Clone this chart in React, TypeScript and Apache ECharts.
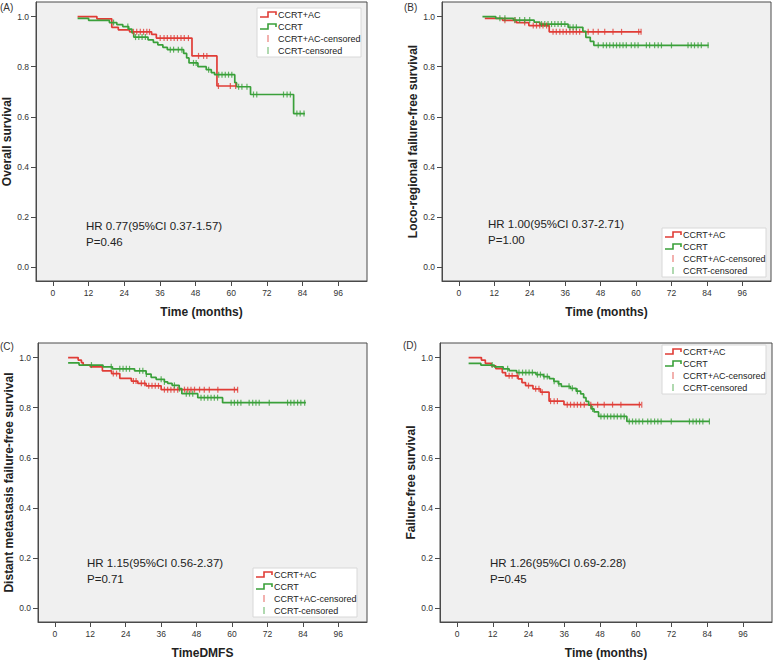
import React, { useEffect, useRef } from "react";
import * as echarts from "echarts";

// ---------- tick labels ----------
const xTicks = [0, 12, 24, 36, 48, 60, 72, 84, 96];
const yTicks = [0, 0.2, 0.4, 0.6, 0.8, 1.0];

// ---------- legend / text ----------
const legendNames = ["CCRT+AC", "CCRT", "CCRT+AC-censored", "CCRT-censored"];
const panelLabels = ["(A)", "(B)", "(C)", "(D)"];
const xTitles = ["Time (months)", "Time (months)", "TimeDMFS", "Time (months)"];
const yTitles = [
  "Overall survival",
  "Loco-regional failure-free survival",
  "Distant metastasis failure-free survival",
  "Failure-free survival",
];
const hrTexts = [
  "HR 0.77(95%CI 0.37-1.57)",
  "HR 1.00(95%CI 0.37-2.71)",
  "HR 1.15(95%CI 0.56-2.37)",
  "HR 1.26(95%CI 0.69-2.28)",
];
const pTexts = ["P=0.46", "P=1.00", "P=0.71", "P=0.45"];

// ---------- Panel A: overall survival ----------
const aRedSteps = [
  [8.3, 1.0], [14.8, 0.991], [19.8, 0.957], [22, 0.947], [25.8, 0.939],
  [33.2, 0.929], [34.8, 0.914], [46.8, 0.843], [55.2, 0.723],
];
const aRedEnd = 61.8;
const aRedCensor = [
  27.1, 28.2, 29.4, 30.5, 31.6, 32.5, 36.1, 37.4, 38.5, 39.7, 40.8, 41.9, 43.1,
  44.2, 45.6, 49, 50.7, 51.8, 55.7, 59.7, 61.5,
];
const aGreenSteps = [
  [8.3, 0.993], [12, 0.985], [19, 0.976], [21.5, 0.968], [23.5, 0.96],
  [25.5, 0.95], [26.6, 0.935], [27.2, 0.918], [32, 0.907], [33.8, 0.897],
  [35.3, 0.887], [37, 0.877], [38.5, 0.868], [44, 0.853], [45, 0.835],
  [45.8, 0.815], [48.8, 0.8], [51.6, 0.788], [53.3, 0.776], [54.4, 0.768],
  [61.2, 0.736], [61.8, 0.72], [66.5, 0.689], [81, 0.613],
];
const aGreenEnd = 84.8;
const aGreenCensor = [
  20.4, 25.2, 27.8, 28.9, 30, 31.1, 39.5, 40.6, 42.2, 43.4, 47.3, 48.2, 52.4,
  55.8, 56.9, 58, 59.1, 60.2, 62.5, 63.6, 65.3, 67.5, 68.6, 77.6, 78.8, 79.9,
  82.1, 83.2, 84.5,
];

// ---------- Panel B: loco-regional failure-free survival ----------
const bRedSteps = [
  [8.8, 0.993], [14.8, 0.985], [19.5, 0.976], [23.7, 0.964], [30.6, 0.939],
];
const bRedEnd = 61.8;
const bRedCensor = [
  15.6, 19, 22.3, 25.2, 26.3, 27.4, 28.5, 29.7, 31.9, 33, 34.2, 35.3, 36.4,
  37.6, 38.7, 39.8, 40.9, 43.8, 45.5, 47.2, 49.4, 52.2, 55.1, 60.9, 61.7,
];
const bGreenSteps = [
  [8, 1.0], [12.5, 0.993], [18.5, 0.986], [25.5, 0.978], [27.4, 0.97],
  [37, 0.957], [42, 0.941], [43, 0.917], [44.5, 0.901], [45.7, 0.885],
];
const bGreenEnd = 84.6;
const bGreenCensor = [
  13.9, 15.6, 19, 20.6, 22.3, 24, 28, 29.1, 30.2, 31.4, 32.5, 33.6, 34.7, 35.9,
  37.6, 38.7, 39.8, 47.2, 48.9, 50, 51.1, 52.3, 53.4, 54.5, 55.6, 56.7, 58.4,
  59.6, 60.7, 63.5, 64.6, 66.3, 67.5, 68.6, 72, 77.6, 78.7, 79.8, 81, 82.1,
  84.4,
];

// ---------- Panel C: distant metastasis failure-free survival ----------
const cRedSteps = [
  [4.5, 1.0], [7.9, 0.99], [9, 0.98], [9.6, 0.97], [12, 0.963], [16.1, 0.947],
  [19.2, 0.936], [22, 0.917], [25.9, 0.906], [28.1, 0.897], [30.9, 0.887],
  [36, 0.872],
];
const cRedEnd = 62;
const cRedCensor = [
  19.8, 20.9, 26.6, 27.5, 29.3, 30.4, 31.8, 32.9, 34, 35.1, 37.1, 38.2, 39.3,
  40.4, 41.6, 43.9, 45, 46.1, 47.3, 49, 50.6, 52.3, 55.2, 60.8, 61.9,
];
const cGreenSteps = [
  [4.5, 0.979], [8.2, 0.97], [16.3, 0.963], [19.5, 0.955], [27, 0.947],
  [30.9, 0.934], [32.6, 0.921], [34.3, 0.913], [37.1, 0.903], [38.2, 0.897],
  [39.7, 0.889], [42.1, 0.876], [43, 0.856], [48.4, 0.84], [56.8, 0.82],
];
const cGreenEnd = 85;
const cGreenCensor = [
  12.4, 19.1, 22, 23.1, 24.2, 25.3, 28.7, 29.8, 31, 36, 37.1, 40.5, 42.2, 44.5,
  45.6, 46.7, 49.5, 50.6, 51.8, 52.9, 54, 55.1, 59.7, 60.8, 61.9, 63, 65.8, 67,
  68.1, 69.2, 72.6, 78.8, 79.9, 81, 82.2, 83.3, 84.6,
];

// ---------- Panel D: failure-free survival ----------
const dRedSteps = [
  [3.9, 1.0], [8.2, 0.99], [9.5, 0.977], [11.5, 0.967], [13, 0.956],
  [15.2, 0.94], [16.3, 0.927], [20.5, 0.915], [21.8, 0.9], [23, 0.888],
  [25.5, 0.875], [28, 0.862], [30.9, 0.826], [35.9, 0.812],
];
const dRedEnd = 61.8;
const dRedCensor = [
  17.5, 18.5, 20.2, 24, 26.4, 27.5, 28.6, 31.4, 32.6, 33.7, 37, 38.1, 39.3,
  40.4, 41.5, 42.7, 44.9, 47.2, 49.4, 52.2, 55, 61.2, 62,
];
const dGreenSteps = [
  [3.9, 0.977], [8, 0.97], [12.5, 0.963], [15.5, 0.955], [17.5, 0.948],
  [20, 0.94], [26.5, 0.932], [29, 0.924], [31, 0.916], [32.5, 0.905],
  [34, 0.895], [35, 0.885], [38, 0.877], [40, 0.866], [41.5, 0.855],
  [42.5, 0.84], [43.3, 0.825], [44.2, 0.81], [45, 0.795], [46, 0.783],
  [47.5, 0.765], [57, 0.745],
];
const dGreenEnd = 84.7;
const dGreenCensor = [
  11.8, 17, 20.8, 22, 23.1, 24.2, 25.3, 27, 28, 29.2, 30.3, 32.6, 34.2, 37.6,
  38.7, 40.4, 45.5, 48.3, 49.4, 50.5, 51.6, 52.7, 53.8, 55, 56.1, 57.8, 58.9,
  60, 61.1, 62.3, 64, 65.1, 66.3, 67.4, 68.5, 71.9, 78, 79.2, 80.3, 81.4, 82.5,
  84.7,
];

const RED = "#e03c36";
const GREEN = "#3aa03a";
const FONT = "Liberation Sans, Arial, Helvetica, sans-serif";
const FRAME = "#4a4a4a";

type Panel = {
  red: number[][];
  redEnd: number;
  redCensor: number[];
  green: number[][];
  greenEnd: number;
  greenCensor: number[];
  grid: { left: number; top: number; width: number; height: number };
  yGap: number;
  legend: { x: number; y: number };
  hr: { x: number; y: number };
  label: { x: number; y: number };
};

const panels: Panel[] = [
  {
    red: aRedSteps, redEnd: aRedEnd, redCensor: aRedCensor,
    green: aGreenSteps, greenEnd: aGreenEnd, greenCensor: aGreenCensor,
    grid: { left: 36, top: 2, width: 331, height: 279 }, yGap: 21,
    legend: { x: 257, y: 8 }, hr: { x: 86, y: 226 }, label: { x: 0, y: 7 },
  },
  {
    red: bRedSteps, redEnd: bRedEnd, redCensor: bRedCensor,
    green: bGreenSteps, greenEnd: bGreenEnd, greenCensor: bGreenCensor,
    grid: { left: 442, top: 2, width: 329, height: 279 }, yGap: 19,
    legend: { x: 662, y: 228 }, hr: { x: 488, y: 224 }, label: { x: 404, y: 7 },
  },
  {
    red: cRedSteps, redEnd: cRedEnd, redCensor: cRedCensor,
    green: cGreenSteps, greenEnd: cGreenEnd, greenCensor: cGreenCensor,
    grid: { left: 38, top: 343, width: 329, height: 279 }, yGap: 23,
    legend: { x: 253, y: 568 }, hr: { x: 87, y: 563 }, label: { x: 0, y: 346 },
  },
  {
    red: dRedSteps, redEnd: dRedEnd, redCensor: dRedCensor,
    green: dGreenSteps, greenEnd: dGreenEnd, greenCensor: dGreenCensor,
    grid: { left: 440, top: 343, width: 332, height: 279 }, yGap: 21,
    legend: { x: 662, y: 345 }, hr: { x: 490, y: 563 }, label: { x: 403, y: 345 },
  },
];

function survivalAt(steps: number[][], t: number): number {
  let s = steps[0][1];
  for (const p of steps) {
    if (p[0] <= t) s = p[1];
  }
  return s;
}

function legendGraphic(x: number, y: number): any[] {
  const els: any[] = [
    {
      type: "rect",
      shape: { x, y, width: 104, height: 49 },
      style: { fill: "#ffffff", stroke: "#d8d8d8", lineWidth: 1 },
    },
  ];
  const rowY = [y + 6.5, y + 18.5, y + 30.5, y + 42.5];
  const colors = [RED, GREEN];
  for (let i = 0; i < 2; i++) {
    const cy = rowY[i];
    els.push({
      type: "polyline",
      shape: {
        points: [
          [x + 3, cy + 2.5],
          [x + 11, cy + 2.5],
          [x + 11, cy - 2.5],
          [x + 19, cy - 2.5],
          [x + 19, cy + 0.5],
        ],
      },
      style: { stroke: colors[i], lineWidth: 1.6, fill: null },
    });
  }
  for (let i = 0; i < 2; i++) {
    const cy = rowY[i + 2];
    els.push({
      type: "line",
      shape: { x1: x + 11, y1: cy - 3.5, x2: x + 11, y2: cy + 3.5 },
      style: { stroke: colors[i], lineWidth: 1, opacity: 0.8 },
    });
  }
  for (let i = 0; i < 4; i++) {
    els.push({
      type: "text",
      x: x + 21,
      y: rowY[i],
      style: {
        text: legendNames[i],
        fill: "#222",
        font: `9px ${FONT}`,
        verticalAlign: "middle",
      },
    });
  }
  return els;
}

export default function App() {
  const ref = useRef<HTMLDivElement>(null);

  useEffect(() => {
    if (!ref.current) return;
    const chart = echarts.init(ref.current, undefined, { renderer: "svg" });

    const grid: any[] = [];
    const xAxis: any[] = [];
    const yAxis: any[] = [];
    const series: any[] = [];
    const graphic: any[] = [];

    panels.forEach((p, i) => {
      grid.push({
        ...p.grid,
        show: true,
        backgroundColor: "#f0f0f0",
        borderColor: FRAME,
        borderWidth: 1,
        containLabel: false,
      });
      xAxis.push({
        type: "value",
        gridIndex: i,
        position: "bottom",
        min: -5.7,
        max: 105.7,
        axisLine: { show: true, onZero: false, lineStyle: { color: FRAME, width: 1 } },
        splitLine: { show: false },
        axisTick: {
          show: true,
          customValues: xTicks,
          length: 5,
          lineStyle: { color: FRAME },
        },
        axisLabel: {
          customValues: xTicks,
          fontSize: 8.5,
          color: "#333",
          margin: 7,
          fontFamily: FONT,
        },
        name: xTitles[i],
        nameLocation: "middle",
        nameGap: 25,
        nameTextStyle: {
          fontWeight: "bold",
          fontSize: 12,
          color: "#222",
          fontFamily: FONT,
        },
      });
      yAxis.push({
        type: "value",
        gridIndex: i,
        position: "left",
        min: -0.055,
        max: 1.058,
        axisLine: { show: true, onZero: false, lineStyle: { color: FRAME, width: 1 } },
        splitLine: { show: false },
        axisTick: {
          show: true,
          customValues: yTicks,
          length: 5,
          lineStyle: { color: FRAME },
        },
        axisLabel: {
          customValues: yTicks,
          fontSize: 8.5,
          color: "#333",
          margin: 7,
          fontFamily: FONT,
          formatter: (v: number) => v.toFixed(1),
        },
        name: yTitles[i],
        nameLocation: "middle",
        nameRotate: 90,
        nameGap: p.yGap,
        nameTextStyle: {
          fontWeight: "bold",
          fontSize: 12,
          color: "#222",
          fontFamily: FONT,
        },
      });

      const groups = [
        { steps: p.red, end: p.redEnd, censor: p.redCensor, color: RED, name: legendNames[0], cname: legendNames[2] },
        { steps: p.green, end: p.greenEnd, censor: p.greenCensor, color: GREEN, name: legendNames[1], cname: legendNames[3] },
      ];
      groups.forEach((g) => {
        const last = g.steps[g.steps.length - 1][1];
        series.push({
          type: "line",
          name: g.name,
          xAxisIndex: i,
          yAxisIndex: i,
          step: "end",
          showSymbol: false,
          symbol: "none",
          data: [...g.steps, [g.end, last]],
          lineStyle: { color: g.color, width: 1.7 },
          itemStyle: { color: g.color },
          z: 3,
        });
        series.push({
          type: "scatter",
          name: g.cname,
          xAxisIndex: i,
          yAxisIndex: i,
          symbol: "rect",
          symbolSize: [1.2, 6],
          data: g.censor.map((t) => [t, survivalAt(g.steps, t)]),
          itemStyle: { color: g.color },
          z: 4,
        });
      });

      graphic.push(...legendGraphic(p.legend.x, p.legend.y));
      graphic.push({
        type: "text",
        x: p.hr.x,
        y: p.hr.y,
        style: {
          text: hrTexts[i],
          fill: "#222",
          font: `11.5px ${FONT}`,
          verticalAlign: "middle",
        },
      });
      graphic.push({
        type: "text",
        x: p.hr.x,
        y: p.hr.y + 16,
        style: {
          text: pTexts[i],
          fill: "#222",
          font: `11.5px ${FONT}`,
          verticalAlign: "middle",
        },
      });
      graphic.push({
        type: "text",
        x: p.label.x,
        y: p.label.y,
        style: {
          text: panelLabels[i],
          fill: "#333",
          font: `10px ${FONT}`,
          verticalAlign: "middle",
        },
      });
    });

    chart.setOption({
      animation: false,
      backgroundColor: "#ffffff",
      grid,
      xAxis,
      yAxis,
      series,
      graphic,
    });

    return () => chart.dispose();
  }, []);

  return (
    <div
      ref={ref}
      style={{
        position: "fixed",
        left: 0,
        top: 0,
        width: 773,
        height: 662,
        background: "#fff",
      }}
    />
  );
}
